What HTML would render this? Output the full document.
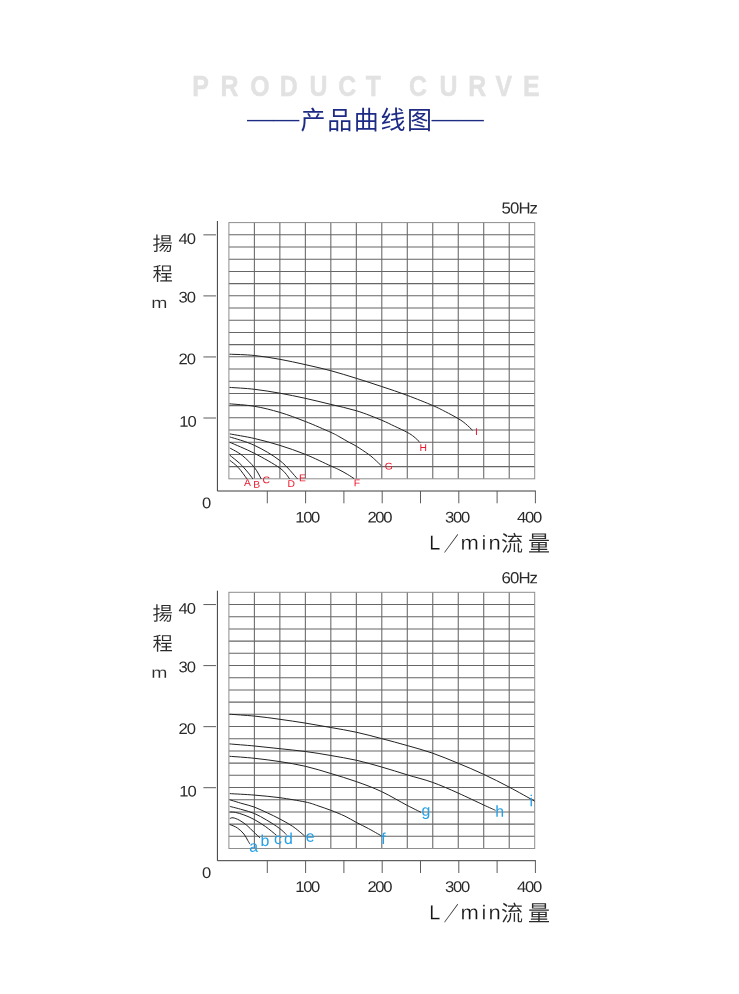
<!DOCTYPE html>
<html lang="zh"><head><meta charset="utf-8"><title>产品曲线图</title>
<style>
html,body{margin:0;padding:0;background:#fff}
body{width:739px;height:994px;overflow:hidden}
svg{display:block;font-family:"Liberation Sans","Noto Sans CJK SC",sans-serif}
.cj{font-family:"Liberation Sans","Noto Sans CJK SC",sans-serif;font-weight:300}
</style></head><body>
<svg width="739" height="994" viewBox="0 0 739 994">
<rect width="739" height="994" fill="#fff"/>
<text transform="translate(0 96) rotate(0.02) scale(0.83,1)" x="231.7 265.8 301.5 337.0 372.9 407.6 440.6 469.9 492.9 529.5 564.3 597.1 630.0" y="0" font-size="30" font-weight="700" fill="#e2e2e2" stroke="#e2e2e2" stroke-width="0.5">PRODUCT CURVE</text>
<g fill="#1d2b85" class="cj">
<text transform="translate(247 125.8) scale(1 0.8)" font-size="26.4" letter-spacing="-0.4">——</text>
<text x="300.6" y="128.8" font-size="25" letter-spacing="1.6" font-weight="400">产品曲线图</text>
<text transform="translate(431.4 125.8) scale(1 0.8)" font-size="26.4" letter-spacing="-0.4">——</text>
</g>

<g transform="translate(0,0.0)">
<path d="M254.38 222.60V478.80M279.87 222.60V478.80M305.35 222.60V478.80M330.83 222.60V478.80M356.32 222.60V478.80M381.80 222.60V478.80M407.28 222.60V478.80M432.77 222.60V478.80M458.25 222.60V478.80M483.73 222.60V478.80M509.22 222.60V478.80M228.90 234.80H534.70M228.90 247.00H534.70M228.90 259.20H534.70M228.90 271.40H534.70M228.90 283.60H534.70M228.90 295.80H534.70M228.90 308.00H534.70M228.90 320.20H534.70M228.90 332.40H534.70M228.90 344.60H534.70M228.90 356.80H534.70M228.90 369.00H534.70M228.90 381.20H534.70M228.90 393.40H534.70M228.90 405.60H534.70M228.90 417.80H534.70M228.90 430.00H534.70M228.90 442.20H534.70M228.90 454.40H534.70M228.90 466.60H534.70" fill="none" stroke="#666" stroke-width="1.05"/>
<rect x="228.90" y="222.60" width="305.80" height="256.20" fill="none" stroke="#8e8e8e" stroke-width="1"/>
<path d="M217.4 221V491H535.9" fill="none" stroke="#3a3a3a" stroke-width="1"/>
<path d="M203.4 234.85H216M203.4 295.90H216M203.4 356.95H216M203.4 418.00H216M267.30 491V503.3M305.60 491V503.3M343.90 491V503.3M382.20 491V503.3M420.50 491V503.3M458.80 491V503.3M497.10 491V503.3M535.40 491V503.3" fill="none" stroke="#5c5c5c" stroke-width="1"/>
<path d="M229.5 354.2 C233.7 354.4 246.1 354.6 254.5 355.5 C262.9 356.4 271.4 357.8 279.9 359.3 C288.3 360.8 296.7 362.7 305.2 364.6 C313.7 366.5 322.2 368.4 330.8 370.7 C339.4 373.0 348.1 375.8 356.6 378.4 C365.1 381.0 373.1 383.7 381.6 386.5 C390.1 389.3 398.9 392.2 407.4 395.4 C415.9 398.6 426.4 402.8 432.7 405.5 C439.0 408.2 441.1 409.5 445.3 411.6 C449.5 413.8 454.5 416.4 457.9 418.4 C461.3 420.4 463.2 421.8 465.6 423.8 C468.0 425.8 471.4 429.2 472.5 430.3" fill="none" stroke="#222" stroke-width="1"/>
<path d="M229.5 387.4 C233.7 387.7 246.1 388.3 254.5 389.3 C262.9 390.3 271.4 391.7 279.9 393.2 C288.3 394.7 296.7 396.4 305.2 398.3 C313.7 400.2 322.2 402.3 330.8 404.4 C339.4 406.5 348.1 408.2 356.6 410.8 C365.1 413.4 375.3 417.6 381.6 420.2 C387.9 422.8 390.2 424.2 394.5 426.2 C398.8 428.2 404.1 430.6 407.3 432.4 C410.6 434.2 411.9 435.1 414.0 436.8 C416.1 438.5 419.2 441.6 420.2 442.6" fill="none" stroke="#222" stroke-width="1"/>
<path d="M229.5 403.8 C233.7 404.2 246.1 404.9 254.5 406.3 C262.9 407.7 271.4 409.9 279.9 412.4 C288.4 414.9 296.9 418.2 305.4 421.5 C313.9 424.8 325.1 429.8 330.9 432.4 C336.7 435.0 337.1 435.5 340.0 437.1 C342.9 438.7 345.4 440.3 348.1 441.8 C350.8 443.3 352.9 444.1 356.3 446.2 C359.7 448.3 365.3 452.0 368.4 454.2 C371.5 456.4 372.8 457.7 374.9 459.6 C377.0 461.5 380.1 464.6 381.2 465.6" fill="none" stroke="#222" stroke-width="1"/>
<path d="M229.8 433.9 C233.9 434.7 246.2 436.6 254.5 438.5 C262.9 440.4 271.4 442.8 279.9 445.4 C288.4 448.0 296.9 451.0 305.4 454.4 C313.9 457.8 325.1 463.4 330.9 466.0 C336.7 468.6 337.2 468.8 340.0 470.2 C342.8 471.6 345.3 473.1 347.7 474.5 C350.1 475.9 353.0 477.9 354.1 478.6" fill="none" stroke="#222" stroke-width="1"/>
<path d="M229.8 436.9 C233.9 438.3 246.2 441.4 254.5 445.4 C262.9 449.3 272.7 455.0 279.9 460.6 C287.1 466.2 294.6 475.8 297.5 478.9" fill="none" stroke="#222" stroke-width="1"/>
<path d="M229.8 442.3 C233.9 444.1 246.2 449.1 254.5 453.4 C262.9 457.7 274.0 463.9 279.9 468.1 C285.8 472.4 288.1 477.1 289.7 478.9" fill="none" stroke="#222" stroke-width="1"/>
<path d="M229.8 448.0 C231.9 449.2 238.2 452.2 242.3 455.5 C246.4 458.8 251.3 463.7 254.5 467.6 C257.6 471.5 260.1 477.0 261.2 478.9" fill="none" stroke="#222" stroke-width="1"/>
<path d="M229.8 455.2 C231.4 456.6 236.6 460.5 239.6 463.3 C242.6 466.1 245.5 469.5 247.7 472.1 C249.9 474.7 252.0 477.8 252.9 478.9" fill="none" stroke="#222" stroke-width="1"/>
<path d="M229.8 460.3 C231.2 461.5 235.3 464.3 238.2 467.4 C241.1 470.5 245.5 477.0 247.0 478.9" fill="none" stroke="#222" stroke-width="1"/>
<text transform="translate(243.9 485.9) rotate(0.05) scale(1.06 1)" font-size="9.8" fill="#e8192c">A</text>
<text transform="translate(253.2 487.7) rotate(0.05) scale(1.06 1)" font-size="9.8" fill="#e8192c">B</text>
<text transform="translate(262.6 483.2) rotate(0.05) scale(1.06 1)" font-size="9.8" fill="#e8192c">C</text>
<text transform="translate(287.5 486.9) rotate(0.05) scale(1.06 1)" font-size="9.8" fill="#e8192c">D</text>
<text transform="translate(299.1 481.2) rotate(0.05) scale(1.06 1)" font-size="9.8" fill="#e8192c">E</text>
<text transform="translate(353.7 486.3) rotate(0.05) scale(1.06 1)" font-size="9.8" fill="#e8192c">F</text>
<text transform="translate(384.7 469.4) rotate(0.05) scale(1.06 1)" font-size="9.8" fill="#e8192c">G</text>
<text transform="translate(419.4 450.9) rotate(0.05) scale(1.06 1)" font-size="9.8" fill="#e8192c">H</text>
<text transform="translate(475.0 434.9) rotate(0.05) scale(1.06 1)" font-size="9.8" fill="#e8192c">I</text>
<g fill="#2a2a2a">
<text transform="translate(178.4 244.0) rotate(0.05) scale(1.080 1)" font-size="15.4" letter-spacing="-0.9">40</text>
<text transform="translate(178.4 302.5) rotate(0.05) scale(1.080 1)" font-size="15.4" letter-spacing="-0.9">30</text>
<text transform="translate(178.4 364.2) rotate(0.05) scale(1.080 1)" font-size="15.4" letter-spacing="-0.9">20</text>
<text transform="translate(179.3 426.8) rotate(0.05) scale(1.080 1)" font-size="15.4" letter-spacing="-0.9">10</text>
<text transform="translate(201.9 508.3) rotate(0.05) scale(1.080 1)" font-size="15.4" letter-spacing="0">0</text>
<text transform="translate(295.2 522.4) rotate(0.05) scale(1.080 1)" font-size="15.4" letter-spacing="-1.2">100</text>
<text transform="translate(367.4 522.4) rotate(0.05) scale(1.080 1)" font-size="15.4" letter-spacing="-1.2">200</text>
<text transform="translate(445.0 522.4) rotate(0.05) scale(1.080 1)" font-size="15.4" letter-spacing="-1.2">300</text>
<text transform="translate(517.0 522.4) rotate(0.05) scale(1.080 1)" font-size="15.4" letter-spacing="-1.2">400</text>
<text transform="translate(501.6 213.6) rotate(0.05) scale(1.050 1)" font-size="16" letter-spacing="-0.9">50Hz</text>
</g>
<g fill="#2a2a2a" class="cj">
<text transform="translate(152.4 250.6) rotate(0.05) scale(1.070 1)" font-size="19" letter-spacing="0" font-weight="350">揚</text>
<text transform="translate(152.4 280.5) rotate(0.05) scale(1.070 1)" font-size="19" letter-spacing="0" font-weight="350">程</text>
<text transform="translate(151.2 308.0) rotate(0.05) scale(1.250 1)" font-size="15.5" letter-spacing="0" stroke="#fff" stroke-width="0.15">m</text>
<text transform="translate(429.3 549.6) rotate(0.05) scale(1.000 1)" font-size="20" letter-spacing="0" fill="#141414" stroke="#fff" stroke-width="0.22">L</text>
<text transform="translate(443.7 551.0) rotate(0.05) scale(0.740 1)" font-size="20" letter-spacing="0" font-weight="400">／</text>
<text transform="translate(460.6 549.6) rotate(0.05) scale(1.100 1)" font-size="20" letter-spacing="0" fill="#141414" stroke="#fff" stroke-width="0.22">m</text>
<text transform="translate(481.4 549.6) rotate(0.05) scale(1.100 1)" font-size="20" letter-spacing="0" fill="#141414" stroke="#fff" stroke-width="0.22">i</text>
<text transform="translate(488.5 549.6) rotate(0.05) scale(1.100 1)" font-size="20" letter-spacing="0" fill="#141414" stroke="#fff" stroke-width="0.22">n</text>
<text transform="translate(500.9 551.2) rotate(0.05) scale(1.000 1)" font-size="22" letter-spacing="0" font-weight="350">流</text>
<text transform="translate(528.0 551.2) rotate(0.05) scale(1.000 1)" font-size="22" letter-spacing="0" font-weight="350">量</text>
</g>
</g>
<g transform="translate(0,369.7)">
<path d="M254.38 222.60V478.80M279.87 222.60V478.80M305.35 222.60V478.80M330.83 222.60V478.80M356.32 222.60V478.80M381.80 222.60V478.80M407.28 222.60V478.80M432.77 222.60V478.80M458.25 222.60V478.80M483.73 222.60V478.80M509.22 222.60V478.80M228.90 234.80H534.70M228.90 247.00H534.70M228.90 259.20H534.70M228.90 271.40H534.70M228.90 283.60H534.70M228.90 295.80H534.70M228.90 308.00H534.70M228.90 320.20H534.70M228.90 332.40H534.70M228.90 344.60H534.70M228.90 356.80H534.70M228.90 369.00H534.70M228.90 381.20H534.70M228.90 393.40H534.70M228.90 405.60H534.70M228.90 417.80H534.70M228.90 430.00H534.70M228.90 442.20H534.70M228.90 454.40H534.70M228.90 466.60H534.70" fill="none" stroke="#666" stroke-width="1.05"/>
<rect x="228.90" y="222.60" width="305.80" height="256.20" fill="none" stroke="#8e8e8e" stroke-width="1"/>
<path d="M217.4 221V491H535.9" fill="none" stroke="#3a3a3a" stroke-width="1"/>
<path d="M203.4 234.85H216M203.4 295.90H216M203.4 356.95H216M203.4 418.00H216M267.30 491V503.3M305.60 491V503.3M343.90 491V503.3M382.20 491V503.3M420.50 491V503.3M458.80 491V503.3M497.10 491V503.3M535.40 491V503.3" fill="none" stroke="#5c5c5c" stroke-width="1"/>
<path d="M229.5 344.5 C233.7 344.8 246.1 345.6 254.5 346.4 C262.9 347.2 271.4 348.4 279.9 349.6 C288.4 350.8 296.9 352.0 305.4 353.4 C313.9 354.8 322.3 356.3 330.8 357.8 C339.3 359.3 348.1 360.7 356.6 362.6 C365.1 364.4 373.1 366.7 381.6 368.9 C390.1 371.1 398.9 373.5 407.4 375.9 C415.9 378.3 424.0 380.5 432.4 383.4 C440.8 386.3 449.5 390.0 458.0 393.5 C466.5 397.0 475.1 400.6 483.6 404.6 C492.1 408.6 500.5 412.8 509.0 417.3 C517.5 421.8 530.4 429.1 534.7 431.5" fill="none" stroke="#222" stroke-width="1"/>
<path d="M229.5 374.2 C233.7 374.6 246.1 375.5 254.5 376.3 C262.9 377.1 271.4 378.1 279.9 379.0 C288.4 379.9 296.9 380.7 305.4 381.8 C313.9 382.9 322.3 384.3 330.8 385.8 C339.3 387.3 348.1 388.7 356.6 390.6 C365.1 392.5 373.1 394.9 381.6 397.3 C390.1 399.7 398.9 402.6 407.4 405.2 C415.9 407.8 424.0 409.6 432.4 412.6 C440.8 415.6 449.5 419.5 458.0 423.3 C466.5 427.1 477.2 432.3 483.5 435.2 C489.8 438.1 493.5 439.7 495.5 440.6" fill="none" stroke="#222" stroke-width="1"/>
<path d="M229.5 386.6 C233.7 386.9 246.1 387.7 254.5 388.6 C262.9 389.5 271.4 390.6 279.9 391.9 C288.4 393.2 296.9 394.6 305.4 396.6 C313.9 398.6 322.3 401.2 330.8 403.8 C339.3 406.4 348.1 409.0 356.6 412.0 C365.1 415.0 373.1 417.9 381.6 421.9 C390.1 425.9 400.8 432.4 407.4 435.8 C414.0 439.2 418.7 441.5 421.0 442.6" fill="none" stroke="#222" stroke-width="1"/>
<path d="M229.8 423.9 C233.9 424.2 246.2 424.7 254.5 425.4 C262.9 426.1 271.4 426.9 279.9 428.0 C288.4 429.2 299.0 431.0 305.4 432.3 C311.8 433.6 313.8 434.7 318.0 436.1 C322.2 437.5 326.3 438.9 330.8 440.6 C335.3 442.3 340.8 444.5 345.0 446.5 C349.2 448.5 352.4 450.6 356.3 452.7 C360.2 454.8 364.4 456.7 368.5 458.9 C372.6 461.1 379.1 464.9 381.2 466.1" fill="none" stroke="#222" stroke-width="1"/>
<path d="M229.8 430.1 C231.8 430.7 237.9 432.6 242.0 433.8 C246.1 435.0 250.1 435.8 254.4 437.4 C258.7 439.0 263.4 441.4 267.6 443.3 C271.8 445.2 275.4 446.9 279.5 449.1 C283.6 451.3 288.2 453.7 292.4 456.5 C296.6 459.3 302.5 464.5 304.5 466.1" fill="none" stroke="#222" stroke-width="1"/>
<path d="M229.8 436.7 C231.8 437.2 237.9 438.7 242.0 439.9 C246.1 441.1 250.3 442.1 254.4 443.8 C258.5 445.6 262.5 447.9 266.7 450.4 C270.9 452.9 276.2 456.2 279.5 458.7 C282.8 461.1 285.4 464.0 286.6 465.1" fill="none" stroke="#222" stroke-width="1"/>
<path d="M229.8 442.3 C230.7 442.4 233.1 442.2 235.4 442.7 C237.8 443.2 240.7 444.0 243.9 445.2 C247.1 446.4 250.8 447.9 254.4 449.9 C258.0 451.9 262.0 454.4 265.7 457.0 C269.4 459.6 274.6 464.1 276.4 465.5" fill="none" stroke="#222" stroke-width="1"/>
<path d="M229.8 448.9 C230.3 448.8 231.4 447.8 233.0 448.1 C234.6 448.3 236.9 449.2 239.2 450.4 C241.5 451.7 244.4 453.6 246.8 455.6 C249.2 457.6 251.7 460.4 253.9 462.5 C256.1 464.6 259.0 467.2 260.0 468.1" fill="none" stroke="#222" stroke-width="1"/>
<path d="M229.8 454.8 C231.1 455.4 235.0 456.6 237.3 458.2 C239.7 459.8 242.2 462.2 243.9 464.3 C245.6 466.4 246.7 468.9 247.7 470.6 C248.7 472.3 249.6 473.9 250.0 474.5" fill="none" stroke="#222" stroke-width="1"/>
<text transform="translate(249.2 482.1) rotate(0.05) scale(1 1)" font-size="15.9" fill="#25a0e6">a</text>
<text transform="translate(260.4 476.3) rotate(0.05) scale(1 1)" font-size="15.9" fill="#25a0e6">b</text>
<text transform="translate(274.0 474.3) rotate(0.05) scale(1 1)" font-size="15.9" fill="#25a0e6">c</text>
<text transform="translate(284.0 474.3) rotate(0.05) scale(1 1)" font-size="15.9" fill="#25a0e6">d</text>
<text transform="translate(305.8 472.1) rotate(0.05) scale(1 1)" font-size="15.9" fill="#25a0e6">e</text>
<text transform="translate(381.3 474.3) rotate(0.05) scale(1 1)" font-size="15.9" fill="#25a0e6">f</text>
<text transform="translate(421.5 446.0) rotate(0.05) scale(1 1)" font-size="15.9" fill="#25a0e6">g</text>
<text transform="translate(495.2 447.0) rotate(0.05) scale(1 1)" font-size="15.9" fill="#25a0e6">h</text>
<text transform="translate(529.4 436.6) rotate(0.05) scale(1 1)" font-size="15.9" fill="#25a0e6">i</text>
<g fill="#2a2a2a">
<text transform="translate(178.4 244.0) rotate(0.05) scale(1.080 1)" font-size="15.4" letter-spacing="-0.9">40</text>
<text transform="translate(178.4 302.5) rotate(0.05) scale(1.080 1)" font-size="15.4" letter-spacing="-0.9">30</text>
<text transform="translate(178.4 364.2) rotate(0.05) scale(1.080 1)" font-size="15.4" letter-spacing="-0.9">20</text>
<text transform="translate(179.3 426.8) rotate(0.05) scale(1.080 1)" font-size="15.4" letter-spacing="-0.9">10</text>
<text transform="translate(201.9 508.3) rotate(0.05) scale(1.080 1)" font-size="15.4" letter-spacing="0">0</text>
<text transform="translate(295.2 522.4) rotate(0.05) scale(1.080 1)" font-size="15.4" letter-spacing="-1.2">100</text>
<text transform="translate(367.4 522.4) rotate(0.05) scale(1.080 1)" font-size="15.4" letter-spacing="-1.2">200</text>
<text transform="translate(445.0 522.4) rotate(0.05) scale(1.080 1)" font-size="15.4" letter-spacing="-1.2">300</text>
<text transform="translate(517.0 522.4) rotate(0.05) scale(1.080 1)" font-size="15.4" letter-spacing="-1.2">400</text>
<text transform="translate(501.6 213.6) rotate(0.05) scale(1.050 1)" font-size="16" letter-spacing="-0.9">60Hz</text>
</g>
<g fill="#2a2a2a" class="cj">
<text transform="translate(152.4 250.6) rotate(0.05) scale(1.070 1)" font-size="19" letter-spacing="0" font-weight="350">揚</text>
<text transform="translate(152.4 280.5) rotate(0.05) scale(1.070 1)" font-size="19" letter-spacing="0" font-weight="350">程</text>
<text transform="translate(151.2 308.0) rotate(0.05) scale(1.250 1)" font-size="15.5" letter-spacing="0" stroke="#fff" stroke-width="0.15">m</text>
<text transform="translate(429.3 549.6) rotate(0.05) scale(1.000 1)" font-size="20" letter-spacing="0" fill="#141414" stroke="#fff" stroke-width="0.22">L</text>
<text transform="translate(443.7 551.0) rotate(0.05) scale(0.740 1)" font-size="20" letter-spacing="0" font-weight="400">／</text>
<text transform="translate(460.6 549.6) rotate(0.05) scale(1.100 1)" font-size="20" letter-spacing="0" fill="#141414" stroke="#fff" stroke-width="0.22">m</text>
<text transform="translate(481.4 549.6) rotate(0.05) scale(1.100 1)" font-size="20" letter-spacing="0" fill="#141414" stroke="#fff" stroke-width="0.22">i</text>
<text transform="translate(488.5 549.6) rotate(0.05) scale(1.100 1)" font-size="20" letter-spacing="0" fill="#141414" stroke="#fff" stroke-width="0.22">n</text>
<text transform="translate(500.9 551.2) rotate(0.05) scale(1.000 1)" font-size="22" letter-spacing="0" font-weight="350">流</text>
<text transform="translate(528.0 551.2) rotate(0.05) scale(1.000 1)" font-size="22" letter-spacing="0" font-weight="350">量</text>
</g>
</g>
</svg></body></html>
